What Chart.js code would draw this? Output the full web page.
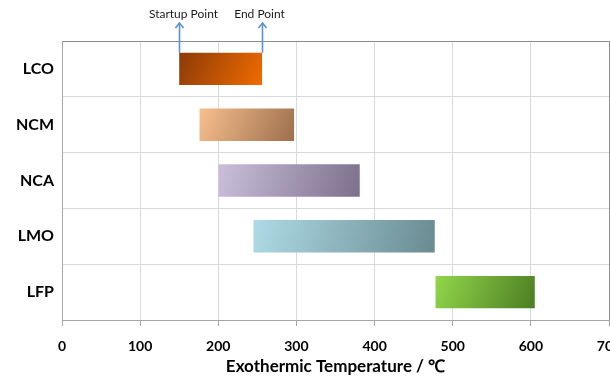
<!DOCTYPE html>
<html>
<head>
<meta charset="utf-8">
<script src="https://cdn.jsdelivr.net/npm/chart.js@4.4.0/dist/chart.umd.min.js"></script>
<style>
  html, body { margin: 0; padding: 0; background: #fff; }
  #wrap { width: 610px; height: 381px; }
</style>
</head>
<body>
<div id="wrap"><canvas id="myChart"></canvas></div>
<script>
// materials and their exothermic range (start, end) in degC
var materials = ['LCO', 'NCM', 'NCA', 'LMO', 'LFP'];
var startTemps = [150, 176, 200, 245, 478];
var endTemps = [256, 297, 381, 477, 605];
var xTicks = [0, 100, 200, 300, 400, 500, 600, 700];

// gradient stops per bar (light/dark ends)
var gradFrom = ['#8a3a08', '#f8c08e', '#cbc0dc', '#aedbe6', '#92d84c'];
var gradTo = ['#f26c00', '#9c6e4c', '#7b6f8c', '#6a8a91', '#4b7c22'];

var ranges = [];
for (var i = 0; i < materials.length; i++) {
    ranges.push([startTemps[i], endTemps[i]]);
}

var fontFam = 'Lato, "Open Sans", sans-serif';

function barGradient(ctx) {
    var chart = ctx.chart;
    var sx = chart.scales.x, sy = chart.scales.y;
    var i = ctx.dataIndex;
    if (!sx || !sy || i === undefined) return gradTo[0];
    var x0 = sx.getPixelForValue(startTemps[i]);
    var x1 = sx.getPixelForValue(endTemps[i]);
    var yc = sy.getPixelForValue(i);
    if (!isFinite(x0) || !isFinite(x1) || !isFinite(yc)) return gradTo[i];
    var g = chart.ctx.createLinearGradient(x0, yc - 20, x1, yc + 20);
    g.addColorStop(0, gradFrom[i]);
    g.addColorStop(1, gradTo[i]);
    return g;
}

// arrows + labels above the first bar (value, text, text shift)
var pointLabels = {
    id: 'pointLabels',
    afterDatasetsDraw: function (chart) {
        var c = chart.ctx;
        var sx = chart.scales.x;
        var meta = chart.getDatasetMeta(0).data[0];
        var barTop = meta.y - meta.height / 2;
        var marks = [[startTemps[0], 'Startup Point', 4], [endTemps[0], 'End Point', -3]];
        c.save();
        marks.forEach(function (m) {
            var x = Math.round(sx.getPixelForValue(m[0])) + 0.5;
            c.strokeStyle = '#5b8fd6';
            c.lineWidth = 1.6;
            c.beginPath();
            c.moveTo(x, barTop);
            c.lineTo(x, 23);
            c.stroke();
            c.beginPath();
            c.moveTo(x - 4, 28);
            c.lineTo(x, 23);
            c.lineTo(x + 4, 28);
            c.stroke();
            c.fillStyle = '#1a1a1a';
            c.font = '12px ' + fontFam;
            c.textAlign = 'center';
            c.textBaseline = 'alphabetic';
            c.fillText(m[1], x + m[2], 18);
        });
        c.restore();
    }
};

var ctx = document.getElementById('myChart').getContext('2d');
var myChart = new Chart(ctx, {
    type: 'bar',
    data: {
        labels: materials,
        datasets: [{
            data: ranges,
            backgroundColor: barGradient,
            borderWidth: 0,
            borderSkipped: false,
            barPercentage: 0.58,
            categoryPercentage: 1
        }]
    },
    options: {
        indexAxis: 'y',
        responsive: true,
        maintainAspectRatio: false,
        animation: false,
        layout: { padding: { top: 41, right: 1, left: 0, bottom: 0 } },
        plugins: {
            legend: { display: false },
            tooltip: { enabled: false }
        },
        scales: {
            x: {
                min: 0,
                max: 700,
                afterBuildTicks: function (s) {
                    s.ticks = xTicks.map(function (v) { return { value: v }; });
                },
                afterFit: function (s) {
                    s.height = 61;
                    s.paddingLeft = 0;
                    s.paddingRight = 0;
                },
                grid: {
                    color: function (c) { return c.tick && c.tick.value === 700 ? '#8c8c8c' : '#d9d9d9'; },
                    tickColor: '#a6a6a6',
                    tickLength: 6,
                    lineWidth: 1
                },
                border: { color: '#a6a6a6', width: 1 },
                ticks: {
                    color: '#000',
                    padding: 12,
                    maxRotation: 0,
                    font: { family: fontFam, size: 14, weight: 'bold' }
                },
                title: {
                    display: true,
                    text: 'Exothermic Temperature / ℃',
                    color: '#000',
                    padding: { top: 7 },
                    font: { family: fontFam, size: 17, weight: 'bold' }
                }
            },
            y: {
                afterFit: function (s) { s.width = 62; },
                grid: {
                    offset: true,
                    drawTicks: false,
                    color: function (c) { return c.index === 0 ? '#8c8c8c' : '#d9d9d9'; },
                    lineWidth: 1
                },
                border: { color: '#a6a6a6', width: 1 },
                ticks: {
                    color: '#000',
                    padding: 8,
                    font: { family: fontFam, size: 16, weight: 'bold' }
                }
            }
        }
    },
    plugins: [pointLabels]
});
myChart.update();
</script>
</body>
</html>
